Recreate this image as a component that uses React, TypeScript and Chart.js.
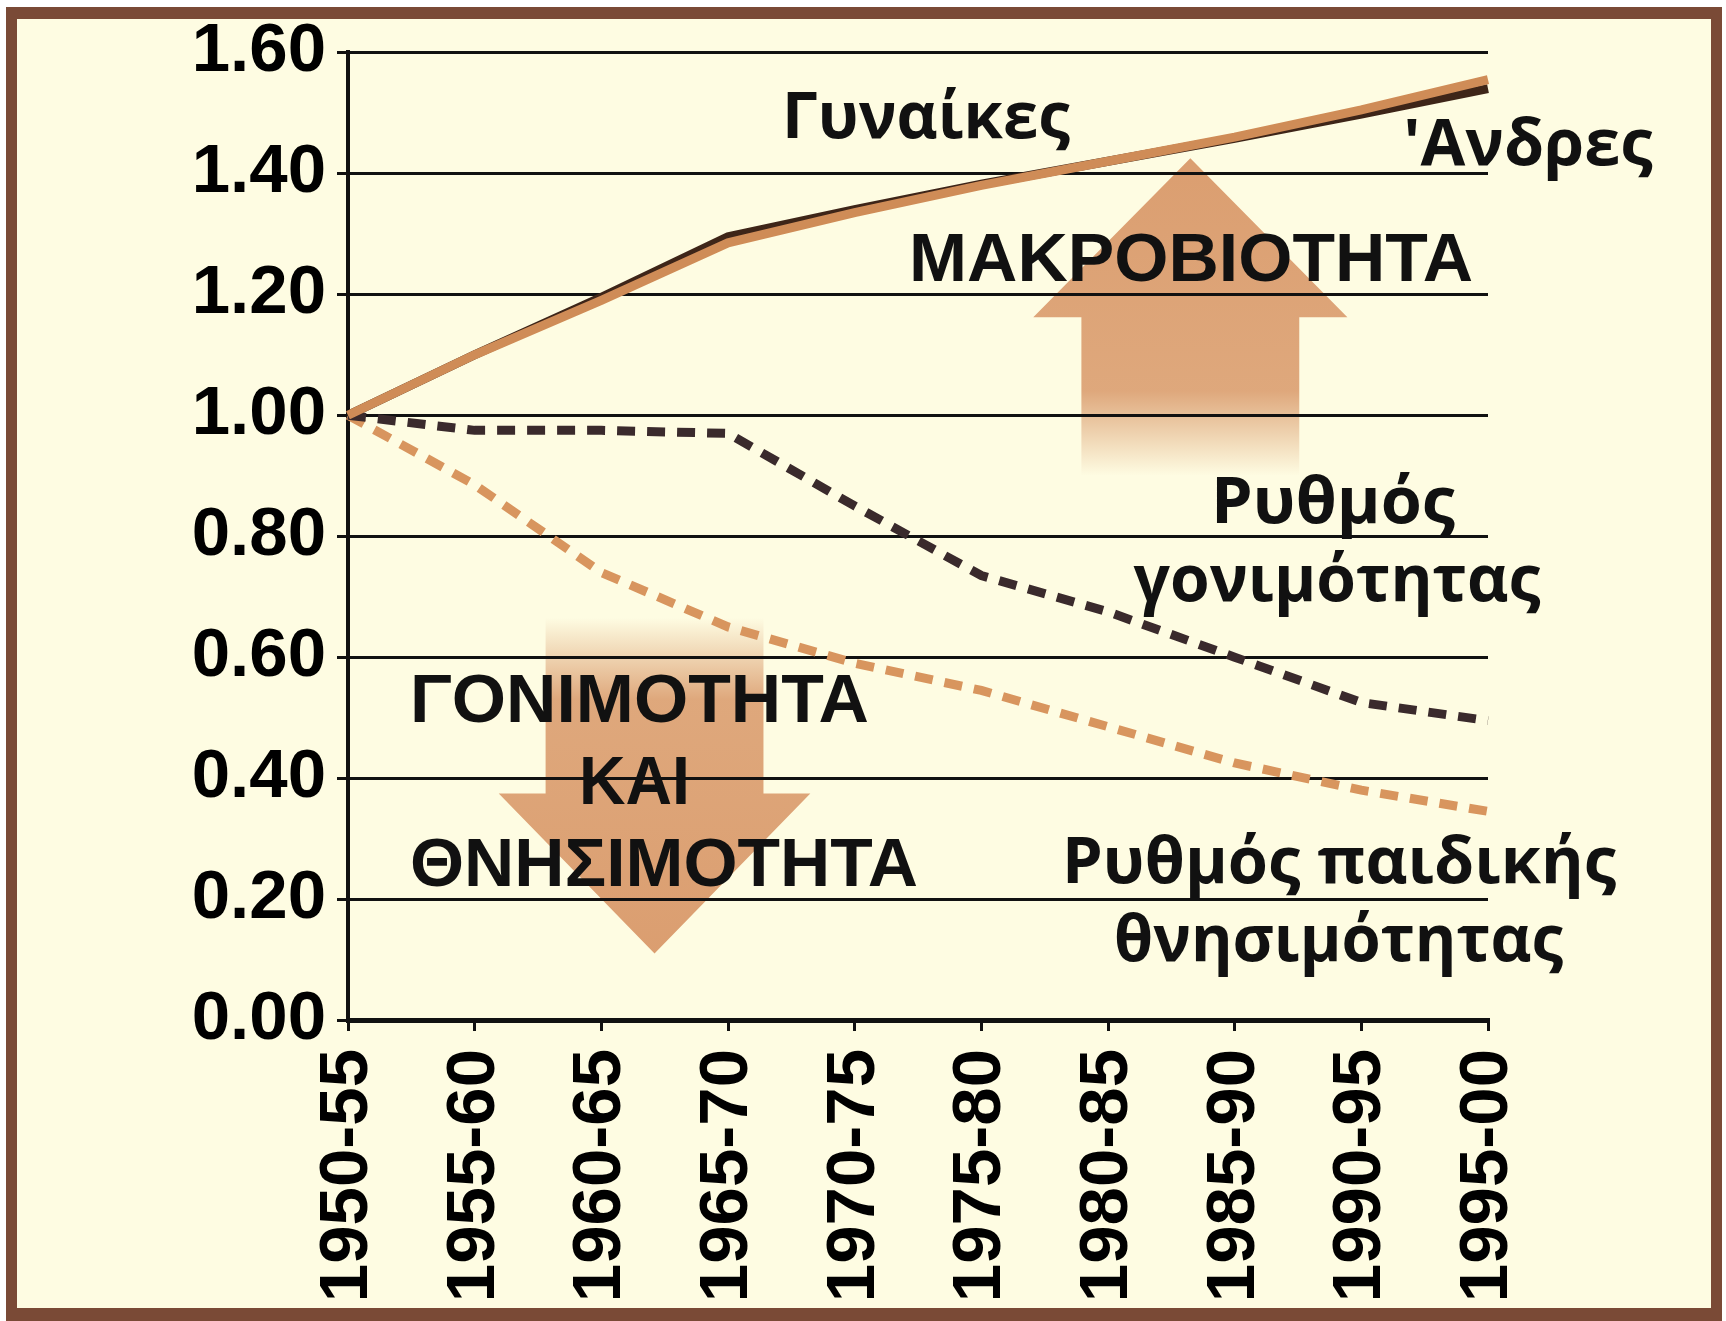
import React, { useEffect, useRef } from 'react';
import { Chart, registerables } from 'chart.js';

Chart.register(...registerables);

// ---- Data ----
const categories = ['1950-55', '1955-60', '1960-65', '1965-70', '1970-75', '1975-80', '1980-85', '1985-90', '1990-95', '1995-00'];
const womenLife = [1.0, 1.1, 1.19, 1.285, 1.335, 1.38, 1.42, 1.46, 1.505, 1.555];
const menLife = [1.0, 1.1, 1.195, 1.295, 1.34, 1.382, 1.42, 1.458, 1.498, 1.54];
const fertilityRate = [1.0, 0.975, 0.975, 0.97, 0.85, 0.735, 0.675, 0.6, 0.525, 0.495];
const infantMortality = [1.0, 0.885, 0.74, 0.65, 0.59, 0.545, 0.485, 0.425, 0.38, 0.345];
const yMin = 0;
const yMax = 1.6;
const yStep = 0.2;

// ---- Annotation layout (category index / value units) ----
const CAPS_FONT = "bold 69px 'Liberation Sans', Arial, sans-serif";
const LOWER_FONT = "bold 64px 'Open Sans', 'DejaVu Sans', sans-serif";

const textLabels = [
  { text: 'Γυναίκες', x: 3.426, y: 1.458, w: 2.274, align: 'left', font: LOWER_FONT },
  { text: "'Ανδρες", x: 8.33, y: 1.4145, w: 1.97, align: 'left', font: LOWER_FONT },
  { text: 'ΜΑΚΡΟΒΙΟΤΗΤΑ', x: 4.429, y: 1.2225, w: 4.453, align: 'left', font: CAPS_FONT },
  { text: 'Ρυθμός', x: 7.776, y: 0.822, w: 1.926, align: 'center', font: LOWER_FONT },
  { text: 'γονιμότητας', x: 7.808, y: 0.6925, w: 3.213, align: 'center', font: LOWER_FONT },
  { text: 'ΓΟΝΙΜΟΤΗΤΑ', x: 0.489, y: 0.4923, w: 3.624, align: 'left', font: CAPS_FONT },
  { text: 'ΚΑΙ', x: 1.824, y: 0.3577, w: 0.876, align: 'left', font: CAPS_FONT },
  { text: 'ΘΝΗΣΙΜΟΤΗΤΑ', x: 0.489, y: 0.2215, w: 4.01, align: 'left', font: CAPS_FONT },
  { text: 'Ρυθμός παιδικής', x: 7.824, y: 0.2265, w: 4.374, align: 'center', font: LOWER_FONT },
  { text: 'θνησιμότητας', x: 7.82, y: 0.0968, w: 3.545, align: 'center', font: LOWER_FONT },
];

const arrows = [
  // up arrow (longevity)
  { cx: 6.65, tip: 1.425, base: 1.162, end: 0.9, solidTo: 1.04, headHalf: 1.24, shaftHalf: 0.86 },
  // down arrow (fertility & mortality)
  { cx: 2.42, tip: 0.11, base: 0.3746, end: 0.665, solidTo: 0.53, headHalf: 1.23, shaftHalf: 0.86 },
];

const BG = '#FEFCE2';
const FRAME = '#7A4A36';
const ARROW_RGB = '217,153,106';

const backgroundPlugin = {
  id: 'bgFrame',
  beforeDraw(chart: any) {
    const { ctx, width, height } = chart;
    ctx.save();
    ctx.fillStyle = '#ffffff';
    ctx.fillRect(0, 0, width, height);
    ctx.fillStyle = FRAME;
    ctx.fillRect(6, 7, width - 10, height - 7);
    ctx.fillStyle = BG;
    ctx.fillRect(17, 19, width - 32, height - 32);

    const xs = chart.scales.x;
    const ys = chart.scales.y;
    arrows.forEach((a) => {
      const cx = xs.getPixelForValue(a.cx);
      const hh = xs.getPixelForValue(a.cx + a.headHalf) - cx;
      const sh = xs.getPixelForValue(a.cx + a.shaftHalf) - cx;
      const yTip = ys.getPixelForValue(a.tip);
      const yBase = ys.getPixelForValue(a.base);
      const yEnd = ys.getPixelForValue(a.end);
      const ySolid = ys.getPixelForValue(a.solidTo);
      const grad = ctx.createLinearGradient(0, yTip, 0, yEnd);
      const t = (ySolid - yTip) / (yEnd - yTip);
      grad.addColorStop(0, `rgba(${ARROW_RGB},0.95)`);
      grad.addColorStop(Math.max(0, Math.min(1, t)), `rgba(${ARROW_RGB},0.85)`);
      grad.addColorStop(1, `rgba(${ARROW_RGB},0)`);
      ctx.fillStyle = grad;
      ctx.beginPath();
      ctx.moveTo(cx, yTip);
      ctx.lineTo(cx + hh, yBase);
      ctx.lineTo(cx + sh, yBase);
      ctx.lineTo(cx + sh, yEnd);
      ctx.lineTo(cx - sh, yEnd);
      ctx.lineTo(cx - sh, yBase);
      ctx.lineTo(cx - hh, yBase);
      ctx.closePath();
      ctx.fill();
    });
    ctx.restore();
  },
};

const textPlugin = {
  id: 'textLabels',
  afterDraw(chart: any) {
    const { ctx } = chart;
    const xs = chart.scales.x;
    const ys = chart.scales.y;
    ctx.save();
    ctx.fillStyle = '#111111';
    ctx.textBaseline = 'alphabetic';
    textLabels.forEach((l) => {
      ctx.font = l.font;
      const px = xs.getPixelForValue(l.x);
      const py = ys.getPixelForValue(l.y);
      const target = xs.getPixelForValue(l.x + l.w) - px;
      const measured = ctx.measureText(l.text).width;
      const sx = target / measured;
      ctx.save();
      ctx.translate(px, py);
      ctx.scale(sx, 1);
      ctx.textAlign = l.align;
      ctx.fillText(l.text, 0, 0);
      ctx.restore();
    });
    ctx.restore();
  },
};

export default function App() {
  const ref = useRef<HTMLCanvasElement | null>(null);

  useEffect(() => {
    if (!ref.current) return;
    const tickFont = { family: "'Liberation Sans', Arial, sans-serif", size: 69, weight: 'bold' as const };
    const chart = new Chart(ref.current, {
      type: 'line',
      data: {
        labels: categories,
        datasets: [
          {
            label: 'Γυναίκες',
            data: womenLife,
            borderColor: '#CF8C57',
            borderWidth: 9,
            pointRadius: 0,
            tension: 0,
          },
          {
            label: 'Άνδρες',
            data: menLife,
            borderColor: '#3E2518',
            borderWidth: 9,
            pointRadius: 0,
            tension: 0,
          },
          {
            label: 'Ρυθμός γονιμότητας',
            data: fertilityRate,
            borderColor: '#3A2A2C',
            borderWidth: 9,
            borderDash: [18, 12],
            borderCapStyle: 'butt',
            pointRadius: 0,
            tension: 0,
          },
          {
            label: 'Ρυθμός παιδικής θνησιμότητας',
            data: infantMortality,
            borderColor: '#D8955E',
            borderWidth: 9,
            borderDash: [18, 12],
            borderCapStyle: 'butt',
            pointRadius: 0,
            tension: 0,
          },
        ],
      },
      options: {
        responsive: false,
        animation: false,
        devicePixelRatio: 1,
        layout: { padding: { left: 0, right: 238, top: 45, bottom: 0 } },
        plugins: {
          legend: { display: false },
          tooltip: { enabled: false },
        },
        scales: {
          x: {
            offset: false,
            grid: {
              display: true,
              drawOnChartArea: false,
              drawTicks: true,
              tickLength: 11,
              color: '#111111',
              lineWidth: 3,
            },
            border: { display: true, color: '#111111', width: 5 },
            ticks: {
              color: '#000000',
              font: tickFont,
              minRotation: 90,
              maxRotation: 90,
              padding: 18,
              autoSkip: false,
            },
            afterFit(scale: any) {
              scale.height = 301;
            },
          },
          y: {
            min: yMin,
            max: yMax,
            grid: {
              display: true,
              drawOnChartArea: true,
              drawTicks: true,
              tickLength: 11,
              color: '#111111',
              lineWidth: 3,
            },
            border: { display: true, color: '#111111', width: 4 },
            ticks: {
              stepSize: yStep,
              color: '#000000',
              font: tickFont,
              padding: 11,
              callback: (v: any) => Number(v).toFixed(2),
            },
            afterFit(scale: any) {
              scale.width = 348;
            },
          },
        },
      },
      plugins: [backgroundPlugin, textPlugin],
    });
    return () => chart.destroy();
  }, []);

  return (
    <div style={{ position: 'absolute', left: 0, top: 0, width: 1726, height: 1321 }}>
      <canvas ref={ref} width={1726} height={1321} style={{ display: 'block', width: 1726, height: 1321 }} />
    </div>
  );
}
